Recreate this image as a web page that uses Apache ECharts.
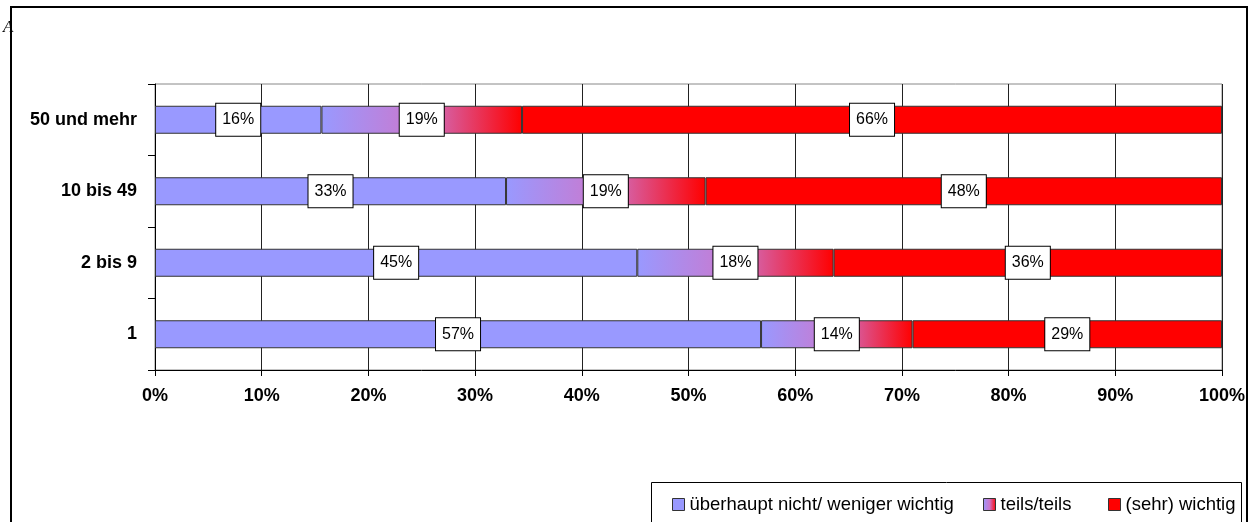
<!DOCTYPE html>
<html>
<head>
<meta charset="utf-8">
<script src="https://cdn.jsdelivr.net/npm/echarts@6/dist/echarts.min.js"></script>
<style>
html,body{margin:0;padding:0;background:#fff;}
#chart{width:1255px;height:522px;}
</style>
</head>
<body>
<div id="chart"></div>
<script>
var categories = ['1', '2 bis 9', '10 bis 49', '50 und mehr'];
var seriesNames = ['überhaupt nicht/ weniger wichtig', 'teils/teils', '(sehr) wichtig'];
var lowValues = [56.8, 45.2, 32.9, 15.6];
var midValues = [14.2, 18.4, 18.7, 18.8];
var highValues = [29.0, 36.4, 48.4, 65.6];
var xTickLabels = ['0%', '10%', '20%', '30%', '40%', '50%', '60%', '70%', '80%', '90%', '100%'];

var chart = echarts.init(document.getElementById('chart'), null, {renderer: 'canvas'});
var FONT = 'Liberation Sans, Arial, sans-serif';

var labelStyle = {
  show: true,
  position: 'inside',
  formatter: function (p) { return Math.round(p.value) + '%'; },
  color: '#000',
  fontFamily: FONT,
  fontSize: 16,
  backgroundColor: '#fff',
  borderColor: '#000',
  borderWidth: 1,
  padding: [8, 6, 8, 6]
};

var midGradient = new echarts.graphic.LinearGradient(0, 0, 1, 0, [
  {offset: 0, color: '#9999ff'},
  {offset: 0.5, color: '#cc77cc'},
  {offset: 1, color: '#ff0000'}
]);

function mkSeries(name, data, color) {
  return {
    name: name,
    type: 'bar',
    stack: 'total',
    data: data,
    barWidth: 28,
    itemStyle: {color: color, borderColor: '#333', borderWidth: 1},
    label: labelStyle,
    emphasis: {disabled: true}
  };
}

function mkLegend(name, left) {
  return {
    left: left,
    top: 495,
    padding: 0,
    itemWidth: 12,
    itemHeight: 12,
    icon: 'rect',
    itemStyle: {borderColor: '#333', borderWidth: 1},
    textStyle: {fontFamily: FONT, fontSize: 18.5, color: '#000', padding: [0, 0, 0, 0]},
    data: [name],
    selectedMode: false
  };
}

var option = {
  animation: false,
  backgroundColor: '#fff',
  grid: {left: 155, right: 33, top: 84, bottom: 152, show: true, borderColor: '#888', borderWidth: 1},
  legend: [
    mkLegend(seriesNames[0], 672),
    mkLegend(seriesNames[1], 983),
    mkLegend(seriesNames[2], 1108)
  ],
  xAxis: {
    type: 'value',
    min: 0,
    max: 100,
    interval: 10,
    axisLine: {show: true, lineStyle: {color: '#000', width: 1}},
    axisTick: {show: true, length: 6, lineStyle: {color: '#000'}},
    splitLine: {show: true, lineStyle: {color: '#222', width: 1}},
    axisLabel: {
      margin: 17,
      fontFamily: FONT,
      fontSize: 18,
      fontWeight: 'bold',
      color: '#000',
      formatter: function (v) { return xTickLabels[Math.round(v / 10)]; }
    }
  },
  yAxis: {
    type: 'category',
    data: categories,
    axisLine: {show: true, lineStyle: {color: '#000', width: 1}},
    axisTick: {show: true, length: 7, lineStyle: {color: '#000'}},
    axisLabel: {margin: 18, fontFamily: FONT, fontSize: 18, fontWeight: 'bold', color: '#000'}
  },
  series: [
    mkSeries(seriesNames[0], lowValues, '#9999ff'),
    mkSeries(seriesNames[1], midValues, midGradient),
    mkSeries(seriesNames[2], highValues, '#ff0000')
  ],
  graphic: [
    {type: 'text', x: 3, y: 19, z: 1, style: {text: 'A', fontSize: 17, fontStyle: 'italic', fontFamily: 'Liberation Serif, serif', fill: '#000'}},
    {type: 'rect', z: 2, shape: {x: 11, y: 7, width: 1236, height: 530}, style: {fill: null, stroke: '#000', lineWidth: 2}},
    {type: 'rect', z: 2, shape: {x: 651.5, y: 482.5, width: 590, height: 60}, style: {fill: null, stroke: '#000', lineWidth: 1}}
  ]
};
chart.setOption(option);
</script>
</body>
</html>
